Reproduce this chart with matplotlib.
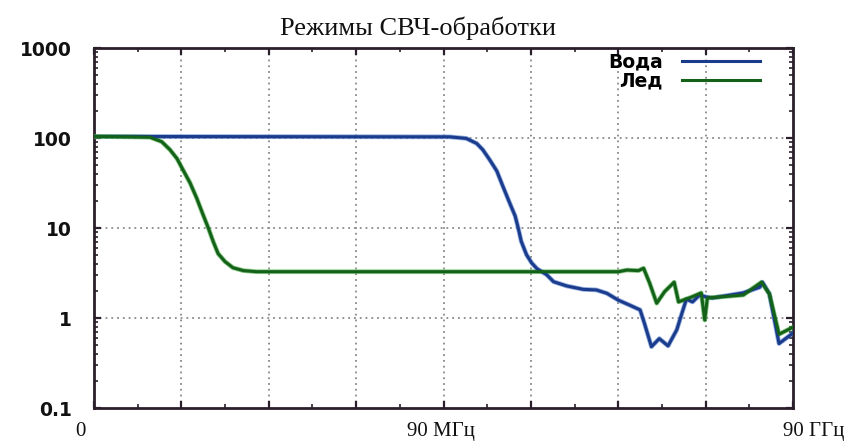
import matplotlib
matplotlib.use("Agg")
import matplotlib.pyplot as plt
from matplotlib.ticker import FixedLocator, LogLocator, NullFormatter

# Horizontal position is given in grid divisions (0 .. 8)
water_x = [0.0, 4.07, 4.26, 4.38, 4.45, 4.53, 4.61, 4.68, 4.76, 4.82, 4.855,
           4.89, 4.95, 5.01, 5.07, 5.18, 5.26, 5.41, 5.60, 5.75, 5.87, 6.00,
           6.13, 6.25, 6.30, 6.38, 6.47, 6.57, 6.67, 6.73, 6.78, 6.85, 6.93,
           7.01, 7.08, 7.43, 7.62, 7.65, 7.73, 7.84, 8.0]
water_y = [104, 103, 99, 87, 74, 57, 43, 29, 18.7, 13.6, 10,
           7.1, 5.05, 4.08, 3.53, 3.03, 2.53, 2.27, 2.08, 2.05, 1.88, 1.58,
           1.39, 1.23, 0.87, 0.48, 0.59, 0.49, 0.74, 1.14, 1.62, 1.51, 1.8,
           1.71, 1.67, 1.9, 2.2, 2.5, 1.85, 0.52, 0.68]

ice_x = [0.0, 0.41, 0.64, 0.775, 0.87, 0.95, 1.02, 1.10, 1.175, 1.25, 1.31,
         1.365, 1.42, 1.50, 1.59, 1.71, 1.86, 6.00, 6.10, 6.23, 6.29, 6.36,
         6.44, 6.53, 6.64, 6.69, 6.84, 6.95, 6.99, 7.02, 7.43, 7.64, 7.73,
         7.84, 8.0]
ice_y = [104, 103, 102, 91, 74, 59, 44, 31.6, 21.5, 13.9, 9.9,
         7.05, 5.2, 4.23, 3.62, 3.36, 3.27, 3.27, 3.41, 3.36, 3.57, 2.43,
         1.46, 1.96, 2.5, 1.51, 1.71, 1.9, 0.95, 1.67, 1.8, 2.5, 1.85,
         0.66, 0.79]

series_names = ["Вода", "Лед"]
title_text = "Режимы СВЧ-обработки"
x_label_pos = [0, 4, 8]
x_label_text = ["0", "90 МГц", "90 ГГц"]
y_ticks = [0.1, 1, 10, 100, 1000]
y_tick_text = ["0.1", "1", "10", "100", "1000"]

blue = "#1b3b8c"
green = "#14621a"
spine_col = "#2a1f2a"

fig = plt.figure(figsize=(8.58, 4.41), dpi=100)
ax = fig.add_axes([94 / 858, 1 - 408 / 441, (793 - 94) / 858, (408 - 48) / 441])

ax.set_yscale("log")
ax.set_xlim(0, 8)
ax.set_ylim(0.1, 1000)

# soft light halo under each curve, then the dark line
ax.plot(water_x, water_y, color="#4a78c8", lw=3.4, alpha=0.6,
        solid_joinstyle="round", zorder=3)
ax.plot(ice_x, ice_y, color="#3fa83a", lw=3.4, alpha=0.6,
        solid_joinstyle="round", zorder=3)
lw_, = ax.plot(water_x, water_y, color=blue, lw=2.2, label=series_names[0],
               solid_joinstyle="round", zorder=4)
li_, = ax.plot(ice_x, ice_y, color=green, lw=2.2, label=series_names[1],
               solid_joinstyle="round", zorder=4)

# dotted grid
grid_kw = dict(color="#8a8a8a", lw=1.3, ls=(0, (1, 2.2)), zorder=1)
for gx in range(1, 8):
    ax.axvline(gx, **grid_kw)
for gy in [1, 10, 100]:
    ax.axhline(gy, **grid_kw)

# ticks on all sides, pointing inward
ax.xaxis.set_major_locator(FixedLocator(range(0, 9)))
ax.xaxis.set_minor_locator(FixedLocator([i + 0.5 for i in range(8)]))
ax.xaxis.set_major_formatter(NullFormatter())
ax.yaxis.set_major_locator(FixedLocator(y_ticks))
ax.yaxis.set_minor_locator(LogLocator(base=10, subs=range(2, 10)))
ax.yaxis.set_minor_formatter(NullFormatter())
ax.set_yticklabels(y_tick_text)
ax.tick_params(which="both", direction="in", top=True, right=True, color=spine_col)
ax.tick_params(which="major", length=5, width=1.6)
ax.tick_params(which="minor", length=3, width=1.2)
ax.tick_params(axis="y", which="major", pad=16, labelsize=13.5)
for lab in ax.get_yticklabels():
    lab.set_fontweight("bold")
    lab.set_family("DejaVu Sans")
    lab.set_color("#111111")

for sp in ax.spines.values():
    sp.set_color(spine_col)
    sp.set_linewidth(2.0)

# frequency labels under the axis
offsets = [-14, -3, 21]
for xp, txt, dx in zip(x_label_pos, x_label_text, offsets):
    ax.annotate(txt, xy=(xp, 0), xycoords=("data", "axes fraction"),
                xytext=(dx * 0.72, -17), textcoords="offset points",
                ha="center", va="center", fontsize=15,
                family="Liberation Serif", color="#111111")

fig.text(418 / 858, 1 - 28 / 441, title_text, ha="center", va="center",
         fontsize=19, family="Liberation Serif", color="#111111")

leg = ax.legend(handles=[lw_, li_], loc="upper right", frameon=False,
                markerfirst=False, handlelength=4.2, handletextpad=1.0,
                labelspacing=0.0, borderaxespad=0.3, bbox_to_anchor=(0.972, 1.025),
                prop=dict(family="DejaVu Sans", weight="bold", size=13.5))
for h in leg.get_lines():
    h.set_linewidth(2.2)

fig.savefig("out.png", dpi=100, facecolor="white")
